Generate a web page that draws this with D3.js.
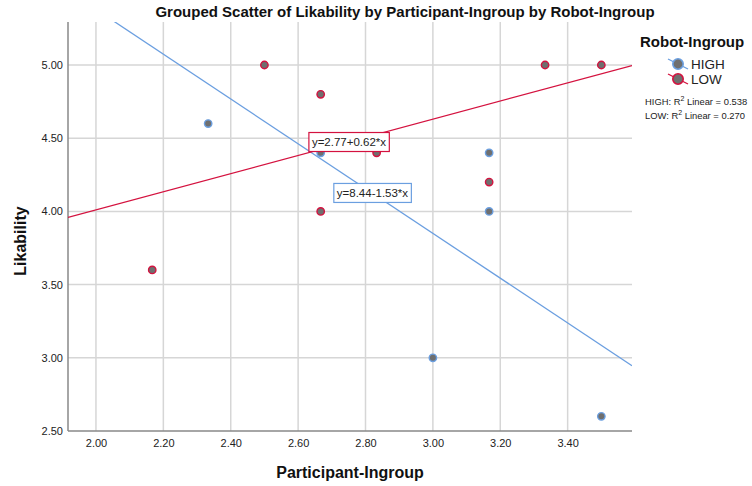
<!DOCTYPE html>
<html><head><meta charset="utf-8">
<script src="https://cdn.jsdelivr.net/npm/d3@7"></script>
<style>body{margin:0;background:#fff;}svg{display:block;font-family:"Liberation Sans",Arial,sans-serif;}</style>
</head><body>
<svg id="c" width="752" height="486"></svg>
<script>
const xTicks = [2.0, 2.2, 2.4, 2.6, 2.8, 3.0, 3.2, 3.4];
const yTicks = [2.5, 3.0, 3.5, 4.0, 4.5, 5.0];
const groups = ["HIGH", "LOW"];
const highX = [2.333, 2.667, 3.0, 3.167, 3.167, 3.5];
const highY = [4.6, 4.4, 3.0, 4.4, 4.0, 2.6];
const lowX = [2.167, 2.5, 2.667, 2.667, 2.833, 3.167, 3.333, 3.5];
const lowY = [3.6, 5.0, 4.8, 4.0, 4.4, 4.2, 5.0, 5.0];
const fitIntercept = [8.44, 2.77];
const fitSlope = [-1.53, 0.62];
const fitLabels = ["y=8.44-1.53*x", "y=2.77+0.62*x"];
const labelPos = [[2.706, 4.126], [2.632, 4.474]];
const r2Labels = ["HIGH: R", "LOW: R"];
const r2Values = ["0.538", "0.270"];
const colors = ["#6b9fe0", "#d4123f"];

const svg = d3.select("#c");
const L = 68, R = 632, T = 22, B = 431;
const x = d3.scaleLinear().domain([1.917, 3.591]).range([L, R]);
const y = d3.scaleLinear().domain([2.5, 5.0]).range([B, 65]);

// gridlines
svg.append("g").selectAll("line").data(xTicks).join("line")
  .attr("x1", d => x(d)).attr("x2", d => x(d)).attr("y1", T).attr("y2", B)
  .attr("stroke", "#d6d6d6").attr("stroke-width", 1.5);
svg.append("g").selectAll("line").data(yTicks.filter(d => d > 2.5)).join("line")
  .attr("x1", L).attr("x2", R).attr("y1", d => y(d)).attr("y2", d => y(d))
  .attr("stroke", "#d6d6d6").attr("stroke-width", 1.5);

// axes
const xAxis = svg.append("g").attr("transform", `translate(0,${B})`)
  .call(d3.axisBottom(x).tickValues(xTicks).tickFormat(d3.format(".2f")).tickSize(0).tickPadding(8));
const yAxis = svg.append("g").attr("transform", `translate(${L},0)`)
  .call(d3.axisLeft(y).tickValues(yTicks).tickFormat(d3.format(".2f")).tickSize(0).tickPadding(5));
[xAxis, yAxis].forEach(a => {
  a.select(".domain").remove();
  a.selectAll("text").attr("font-size", 11).attr("fill", "#222").attr("font-family", "Liberation Sans, Arial, sans-serif");
});
svg.append("line").attr("x1", L).attr("x2", L).attr("y1", T).attr("y2", B).attr("stroke", "#888").attr("stroke-width", 1.5);
svg.append("line").attr("x1", L).attr("x2", R).attr("y1", B).attr("y2", B).attr("stroke", "#888").attr("stroke-width", 1.5);

// clip for fit lines
svg.append("clipPath").attr("id", "pc").append("rect").attr("x", L).attr("y", T).attr("width", R - L).attr("height", B - T);

// fit lines
groups.forEach((g, i) => {
  const x0 = 1.917, x1 = 3.591;
  svg.append("line").attr("clip-path", "url(#pc)")
    .attr("x1", x(x0)).attr("y1", y(fitIntercept[i] + fitSlope[i] * x0))
    .attr("x2", x(x1)).attr("y2", y(fitIntercept[i] + fitSlope[i] * x1))
    .attr("stroke", colors[i]).attr("stroke-width", 1.3);
});

// points
const pts = [highX.map((v, j) => [v, highY[j]]), lowX.map((v, j) => [v, lowY[j]])];
pts.forEach((arr, i) => {
  svg.append("g").selectAll("circle").data(arr).join("circle")
    .attr("cx", d => x(d[0])).attr("cy", d => y(d[1])).attr("r", 3.7)
    .attr("fill", "#6f6f6f").attr("stroke", colors[i]).attr("stroke-width", 1.4);
});

// fit labels
groups.forEach((g, i) => {
  const lx = x(labelPos[i][0]), ly = y(labelPos[i][1]);
  const t = svg.append("text").attr("x", lx + 3).attr("y", ly + 4)
    .attr("font-size", 11.5).attr("fill", "#222").text(fitLabels[i]);
  const bb = t.node().getBBox();
  svg.insert("rect", () => t.node()).attr("x", lx).attr("y", ly - 9.5)
    .attr("width", bb.width + 6).attr("height", 19)
    .attr("fill", "#fff").attr("stroke", colors[i]).attr("stroke-width", 1.2);
});

// titles
svg.append("text").attr("x", 405).attr("y", 17).attr("text-anchor", "middle")
  .attr("font-size", 15).attr("font-weight", "bold").attr("fill", "#111")
  .text("Grouped Scatter of Likability by Participant-Ingroup by Robot-Ingroup");
svg.append("text").attr("x", 350).attr("y", 478).attr("text-anchor", "middle")
  .attr("font-size", 16).attr("font-weight", "bold").attr("fill", "#111").text("Participant-Ingroup");
svg.append("text").attr("transform", "translate(26,241) rotate(-90)").attr("text-anchor", "middle")
  .attr("font-size", 16).attr("font-weight", "bold").attr("fill", "#111").text("Likability");

// legend
svg.append("text").attr("x", 640).attr("y", 47).attr("font-size", 15).attr("font-weight", "bold").attr("fill", "#111").text("Robot-Ingroup");
groups.forEach((g, i) => {
  const cy = 64 + i * 15, cx = 678;
  svg.append("line").attr("x1", cx - 10).attr("y1", cy - 5).attr("x2", cx + 10).attr("y2", cy + 5)
    .attr("stroke", colors[i]).attr("stroke-width", 1.3);
  svg.append("circle").attr("cx", cx).attr("cy", cy).attr("r", 5.2)
    .attr("fill", "#6f6f6f").attr("stroke", colors[i]).attr("stroke-width", 1.6);
  svg.append("text").attr("x", 691).attr("y", cy + 5).attr("font-size", 13.5).attr("fill", "#222").text(g);
  const t = svg.append("text").attr("x", 645).attr("y", 105 + i * 14).attr("font-size", 9.4).attr("fill", "#222");
  t.append("tspan").text(r2Labels[i]);
  t.append("tspan").attr("dy", -4).attr("font-size", 7).text("2");
  t.append("tspan").attr("dy", 4).text(" Linear = " + r2Values[i]);
});
</script>
</body></html>
